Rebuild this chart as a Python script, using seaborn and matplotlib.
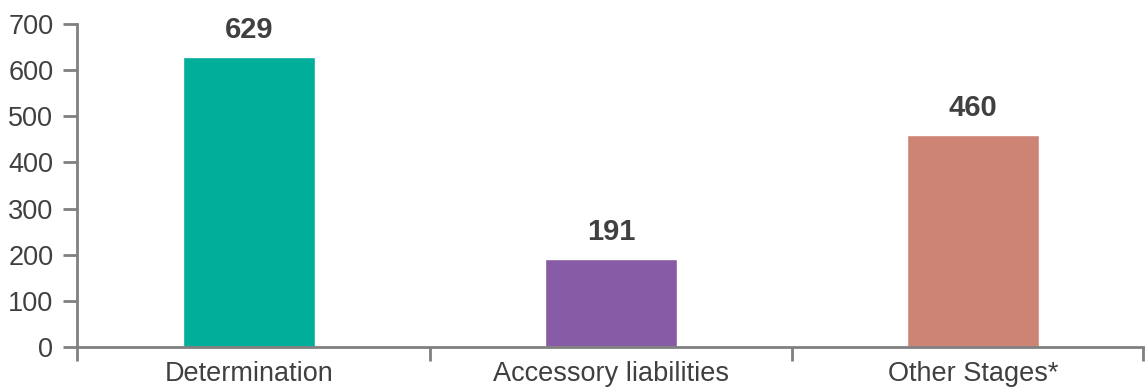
import matplotlib
matplotlib.use("Agg")
import matplotlib.pyplot as plt
import seaborn as sns
import pandas as pd

categories = ["Determination", "Accessory liabilities", "Other Stages*"]
values = [629, 191, 460]
colors = ["#00AE9A", "#875BA6", "#CD8474"]
yticks = [0, 100, 200, 300, 400, 500, 600, 700]

sns.set_theme(style="white")
plt.rcParams["font.family"] = ["Liberation Sans", "DejaVu Sans"]

text_color = "#404040"
axis_color = "#808080"

df = pd.DataFrame({"category": categories, "value": values})

fig = plt.figure(figsize=(11.45, 3.92), dpi=100)
ax = fig.add_axes([0.0672, 0.1148, 0.9310, 0.8240])

sns.barplot(data=df, x="category", y="value", hue="category",
            palette=colors, width=0.365, saturation=1, legend=False, ax=ax)

ax.set_xlim(-0.475, 2.47)
ax.set_ylim(0, 700)
ax.set_yticks(yticks)
ax.set_xlabel("")
ax.set_ylabel("")

for side in ["top", "right"]:
    ax.spines[side].set_visible(False)
for side in ["left", "bottom"]:
    ax.spines[side].set_color(axis_color)
    ax.spines[side].set_linewidth(2)

ax.tick_params(axis="y", which="major", direction="out", length=10, width=2,
               color=axis_color, labelsize=19.5, labelcolor=text_color, pad=7, left=True)
ax.tick_params(axis="x", which="major", length=0, labelsize=19.5,
               labelcolor=text_color, pad=10)
ax.set_xticks([-0.475, 0.5, 1.5, 2.47], minor=True)
ax.tick_params(axis="x", which="minor", direction="out", length=10, width=2,
               color=axis_color, bottom=True)

for container in ax.containers:
    ax.bar_label(container, fmt="%d", padding=9, fontsize=21,
                 fontweight="bold", color=text_color)

ax.grid(False)
fig.savefig("out.png", dpi=100, facecolor="white")
